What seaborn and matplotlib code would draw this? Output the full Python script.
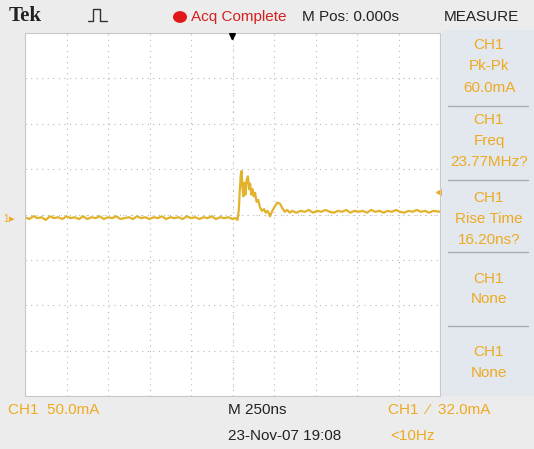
import numpy as np
import pandas as pd
import matplotlib
matplotlib.use("Agg")
import matplotlib.pyplot as plt
import seaborn as sns
from matplotlib.patches import Rectangle, Circle
from matplotlib.lines import Line2D

sns.set_style("white")
plt.rcParams["font.family"] = ["Liberation Sans", "DejaVu Sans"]

# --- waveform CH1 (time in ns, current in mA, 0 = screen centre) ---
t_pre = [-1250, -1225, -1200, -1175, -1150, -1125, -1100, -1075, -1050, -1025,
         -1000, -975, -950, -925, -900, -875, -850, -825, -800, -775,
         -750, -725, -700, -675, -650, -625, -600, -575, -550, -525,
         -500, -475, -450, -425, -400, -375, -350, -325, -300, -275,
         -250, -225, -200, -175, -150, -125, -100, -75, -50, -25, 0]
i_pre = [-3, -5, -2, -4, -3, -6, -2, -4, -3, -5,
         -2, -4, -3, -5, -2, -5, -3, -4, -2, -5,
         -3, -4, -2, -5, -4, -3, -5, -2, -4, -3,
         -5, -3, -4, -2, -5, -3, -4, -3, -5, -2,
         -4, -3, -5, -3, -4, -2, -5, -3, -4, -3, -5]

t_spike = [20, 30, 38, 45, 50, 55, 60, 66, 72, 78, 85, 93, 100, 106, 113,
           120, 128, 136, 145, 155, 165, 178, 190, 200, 212, 226, 240, 255,
           270, 286, 300, 315, 330, 345]
i_spike = [-4, -6, 5, 30, 44, 48, 30, 20, 35, 22, 38, 42, 28, 34, 22,
           28, 20, 24, 14, 16, 8, 4, 6, 2, 4, -2, 4, 9,
           13, 12, 7, 3, 5, 2]

t_post = [360, 385, 410, 435, 460, 485, 510, 535, 560, 585, 610, 635, 660,
          685, 710, 735, 760, 785, 810, 835, 860, 885, 910, 935, 960, 985,
          1010, 1035, 1060, 1085, 1110, 1135, 1160, 1185, 1210, 1250]
i_post = [4, 2, 4, 3, 5, 2, 4, 3, 5, 3, 2, 4, 3, 5, 2, 4, 3, 4, 2,
          5, 3, 4, 2, 4, 3, 5, 3, 2, 4, 3, 5, 3, 4, 2, 4, 3]

df = pd.DataFrame({"t": t_pre + t_spike + t_post,
                   "i": i_pre + i_spike + i_post})

W, H = 534, 449
orange = "#eeaa22"
trace_col = "#e2b22a"

def fx(px):
    return px / W

def fy(py):
    return 1 - py / H

fig = plt.figure(figsize=(W / 100, H / 100), dpi=100, facecolor="#ececec")

# measure side panel
fig.patches.append(Rectangle((fx(442), fy(396)), fx(534) - fx(442), fy(30) - fy(396),
                             transform=fig.transFigure, facecolor="#e3e7ee",
                             edgecolor="none", zorder=0))
for sep in [106, 180, 252, 326]:
    fig.lines.append(Line2D([fx(448), fx(528)], [fy(sep), fy(sep)],
                            transform=fig.transFigure, color="#a8adb8", lw=1))

ax = fig.add_axes([fx(25), fy(396), fx(440) - fx(25), fy(33) - fy(396)])
ax.set_facecolor("white")

sns.lineplot(data=df, x="t", y="i", ax=ax, color=trace_col, lw=1.6,
             estimator=None, sort=False)

ax.set_xlim(-1250, 1250)
ax.set_ylim(-200, 200)
ax.set_xticks(np.linspace(-1250, 1250, 11))
ax.set_yticks(np.linspace(-200, 200, 9))
ax.grid(True, color="#b8b8b8", lw=0.8, linestyle=(0, (1, 4)))
ax.tick_params(length=0, labelbottom=False, labelleft=False)
ax.set_xlabel("")
ax.set_ylabel("")
for s in ax.spines.values():
    s.set_color("#c8c8c8")
    s.set_linewidth(0.8)

# centre-line minor ticks
ax.axhline(0, color="#c0c0c0", lw=0.8, linestyle=(0, (1, 7)), zorder=1)
ax.axvline(0, color="#c0c0c0", lw=0.8, linestyle=(0, (1, 7)), zorder=1)

# trigger position arrow and trigger level marker
ax.annotate("", xy=(0, 0.97), xytext=(0, 1.0), xycoords=("data", "axes fraction"),
            arrowprops=dict(arrowstyle="-|>", color="black", lw=1.4, mutation_scale=9))
ax.plot([1.0], [25], marker="<", color=orange, ms=6, transform=ax.get_yaxis_transform(),
        clip_on=False)
fig.text(fx(3), fy(219), "1", color=orange, fontsize=7, va="center", ha="left")
fig.text(fx(9), fy(219), "▸", color=orange, fontsize=8, va="center", ha="left",
         family="DejaVu Sans")

# header
fig.text(fx(9), fy(16), "Tek", fontsize=15, fontweight="bold", family="Liberation Serif",
         va="center", ha="left", color="#222222")
fig.lines.append(Line2D([fx(88), fx(93), fx(93), fx(100), fx(100), fx(107)],
                        [fy(21), fy(21), fy(9), fy(9), fy(21), fy(21)],
                        transform=fig.transFigure, color="#333333", lw=1))
fig.patches.append(Circle((fx(180), fy(17)), 7 / W, transform=fig.transFigure,
                          facecolor="#e01818", edgecolor="none"))
fig.text(fx(191), fy(17), "Acq Complete", fontsize=11, color="#d42020", va="center", ha="left")
fig.text(fx(302), fy(17), "M Pos: 0.000s", fontsize=11, color="#222222", va="center", ha="left")
fig.text(fx(481), fy(17), "MEASURE", fontsize=11, color="#222222", va="center", ha="center")

# measurement panel
meas = [(45, "CH1"), (66, "Pk-Pk"), (88, "60.0mA"),
        (120, "CH1"), (141, "Freq"), (162, "23.77MHz?"),
        (198, "CH1"), (219, "Rise Time"), (240, "16.20ns?"),
        (279, "CH1"), (299, "None"),
        (352, "CH1"), (373, "None")]
for yy, txt in meas:
    fig.text(fx(489), fy(yy), txt, fontsize=11, color=orange, va="center", ha="center")

# footer
fig.text(fx(8), fy(410), "CH1  50.0mA", fontsize=11, color=orange, va="center", ha="left")
fig.text(fx(228), fy(410), "M 250ns", fontsize=11, color="#222222", va="center", ha="left")
fig.text(fx(228), fy(436), "23-Nov-07 19:08", fontsize=11, color="#222222", va="center", ha="left")
fig.text(fx(388), fy(410), "CH1  ⁄  32.0mA", fontsize=11, color=orange, va="center", ha="left")
fig.text(fx(390), fy(436), "<10Hz", fontsize=11, color=orange, va="center", ha="left")

fig.savefig("out.png", dpi=100, facecolor=fig.get_facecolor())
